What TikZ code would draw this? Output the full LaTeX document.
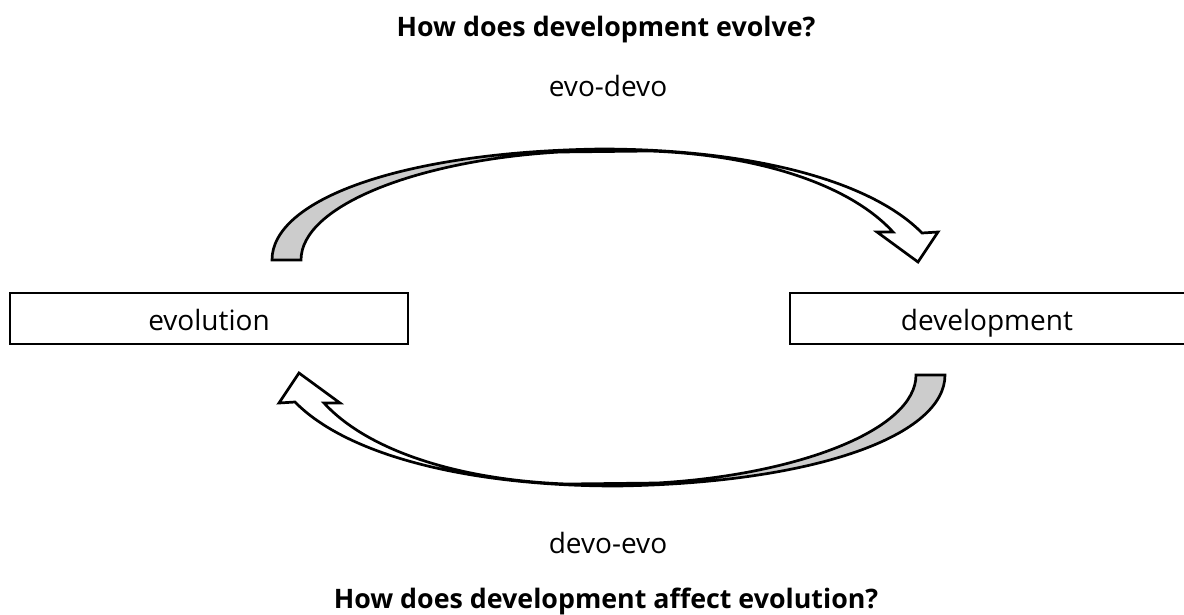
\documentclass[tikz,border=0pt]{standalone}
\usepackage{fontspec}
\setmainfont{Open Sans}
\begin{document}
\begin{tikzpicture}[x=1pt,y=-1pt,
  lbl/.style={inner sep=0pt,anchor=base,font=\fontsize{28}{32}\selectfont},
  ttl/.style={inner sep=0pt,anchor=base,font=\bfseries\fontsize{26.8}{30}\selectfont},
  boxst/.style={draw,line width=1.6pt,fill=white},
  arrline/.style={draw=black,line width=2.7pt,line join=miter,fill=white},
  shade/.style={fill=black!20}]
\clip (0,0) rectangle (1184,614);
\fill[white] (0,0) rectangle (1184,614);
% boxes
\draw[boxst] (10,293) rectangle (408,344);
\draw[boxst] (790,293) rectangle (1187,344);
\node[lbl] (evo) at (209,330) {evolution};
\node[lbl] (dev) at (987,330) {development};
% texts
\node[ttl] (t1) at (606,36) {How does development evolve?};
\node[lbl] (l1) at (608,96) {evo-devo};
\node[lbl] (l2) at (608,553) {devo-evo};
\node[ttl] (t2) at (606,608) {How does development affect evolution?};
% arrows
\foreach \r in {0,180}{
\begin{scope}[rotate around={\r:(608.5,317.5)}]
\fill[shade] (272,260) .. controls (272,200) and (400,152) .. (600,149)
  -- (560,152) .. controls (420,160) and (301,205) .. (301,260) -- cycle;
\draw[arrline,fill=none] (272,260) .. controls (272,200) and (400,152) .. (600,149)
  .. controls (750,149) and (870,180) .. (922,233)
  -- (938,232) -- (918,262) -- (877,232) -- (893,232)
  .. controls (850,185) and (760,155) .. (650,151)
  -- (560,152) .. controls (420,160) and (301,205) .. (301,260) -- cycle;
\end{scope}}
\end{tikzpicture}
\end{document}
